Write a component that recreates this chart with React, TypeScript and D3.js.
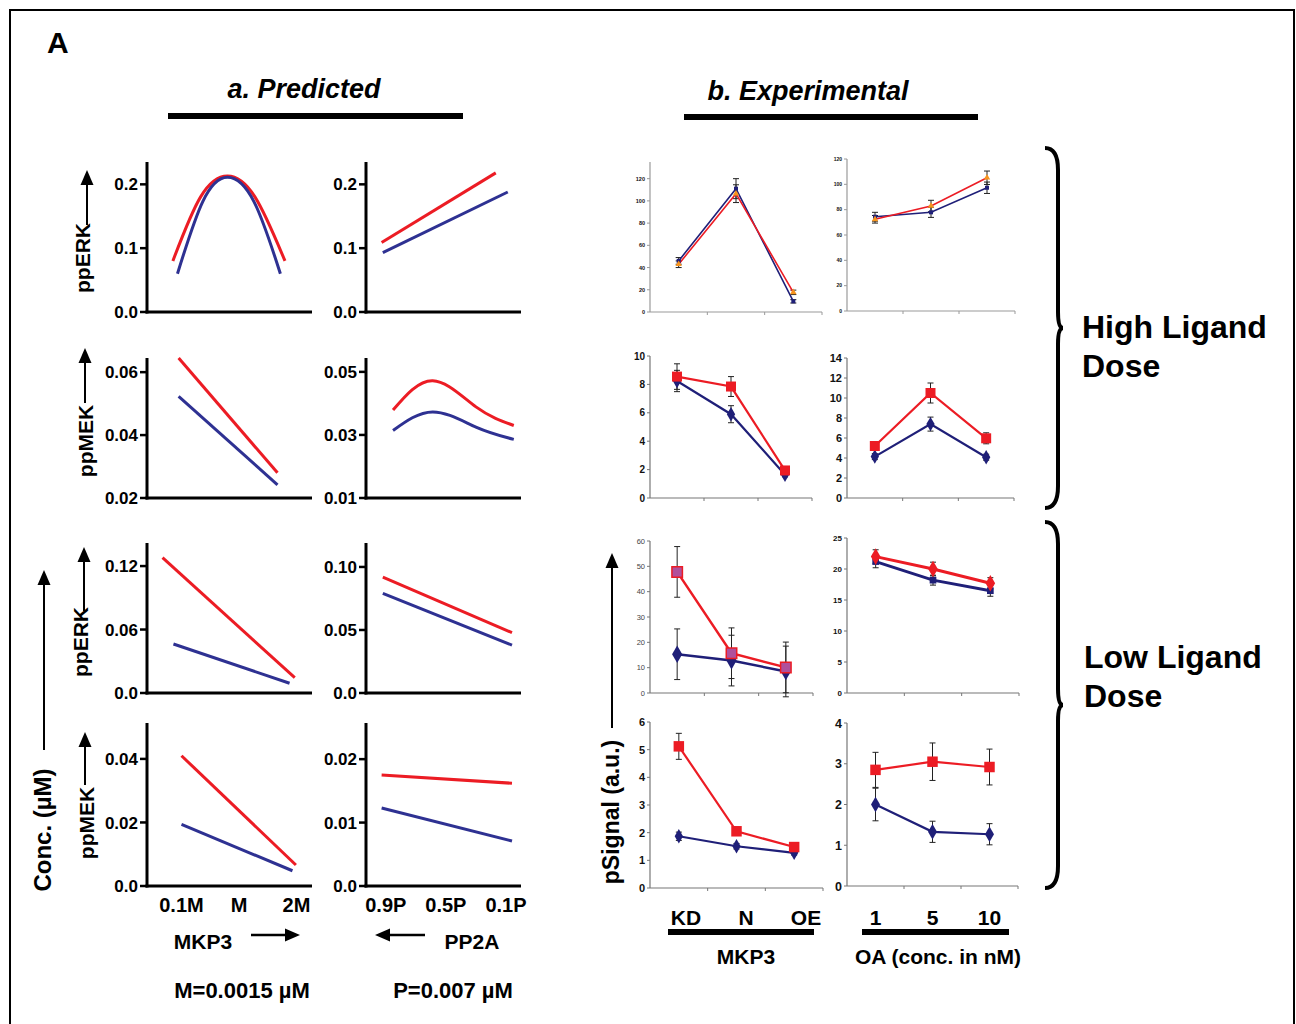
import React from "react";
import * as d3 from "d3";

const FONT = '"Liberation Sans", Arial, Helvetica, sans-serif';
const RED = "#ec1c24";
const BLUE = "#2e3192";
const NAVY = "#1f1f78";

// ---- a. Predicted -------------------------------------------------------
// x is the position on the dose axis: 0 = first tick, 1 = middle, 2 = last
const mkp3Ticks = ["0.1M", "M", "2M"];
const pp2aTicks = ["0.9P", "0.5P", "0.1P"];
const rowNames = ["ppERK", "ppMEK", "ppERK", "ppMEK"];

const erkHighMkp3Red = [[-0.15, 0.08], [0.33, 0.18], [0.8, 0.213], [1.28, 0.18], [1.8, 0.08]];
const erkHighMkp3Blue = [[-0.07, 0.06], [0.37, 0.173], [0.8, 0.211], [1.26, 0.173], [1.72, 0.06]];
const erkHighPp2aRed = [[-0.07, 0.109], [1.83, 0.218]];
const erkHighPp2aBlue = [[-0.05, 0.093], [2.03, 0.188]];
const mekHighMkp3Red = [[-0.05, 0.0645], [1.67, 0.028]];
const mekHighMkp3Blue = [[-0.05, 0.0523], [1.67, 0.0242]];
const mekHighPp2aRed = [[0.12, 0.0379], [0.78, 0.0472], [1.5, 0.0389], [2.13, 0.033]];
const mekHighPp2aBlue = [[0.12, 0.0314], [0.78, 0.0373], [1.5, 0.0325], [2.13, 0.0286]];
const erkLowMkp3Red = [[-0.33, 0.128], [1.97, 0.0145]];
const erkLowMkp3Blue = [[-0.14, 0.0463], [1.88, 0.0092]];
const erkLowPp2aRed = [[-0.05, 0.092], [2.1, 0.0479]];
const erkLowPp2aBlue = [[-0.05, 0.0791], [2.1, 0.038]];
const mekLowMkp3Red = [[0, 0.041], [1.99, 0.0066]];
const mekLowMkp3Blue = [[0, 0.0194], [1.93, 0.0048]];
const mekLowPp2aRed = [[-0.07, 0.0175], [2.1, 0.0162]];
const mekLowPp2aBlue = [[-0.07, 0.0123], [2.1, 0.0071]];

const predYDomains = [[0, 0.235], [0, 0.235], [0.02, 0.0645], [0.01, 0.0544], [0, 0.1418], [0, 0.119], [0, 0.0513], [0, 0.0257]];
const predYTicks = [[0, 0.1, 0.2], [0, 0.1, 0.2], [0.02, 0.04, 0.06], [0.01, 0.03, 0.05], [0, 0.06, 0.12], [0, 0.05, 0.1], [0, 0.02, 0.04], [0, 0.01, 0.02]];
const predYLabels = [["0.0", "0.1", "0.2"], ["0.0", "0.1", "0.2"], ["0.02", "0.04", "0.06"], ["0.01", "0.03", "0.05"], ["0.0", "0.06", "0.12"], ["0.0", "0.05", "0.10"], ["0.0", "0.02", "0.04"], ["0.0", "0.01", "0.02"]];

// ---- b. Experimental ----------------------------------------------------
const mkp3Cats = ["KD", "N", "OE"];
const oaCats = ["1", "5", "10"];

const e11Blue = [46, 111, 9.6], e11BlueErr = [3, 9, 1.5];
const e11Red = [43, 106.5, 17.7], e11RedErr = [3, 8, 2];
const e12Blue = [74.4, 77.9, 97.3], e12BlueErr = [3.5, 4, 4.5];
const e12Red = [72.4, 82.9, 105.2], e12RedErr = [3, 4.5, 5.3];
const e21Blue = [8.24, 5.9, 1.64], e21BlueErr = [0.75, 0.6, 0.15];
const e21Red = [8.55, 7.85, 1.94], e21RedErr = [0.9, 0.7, 0.25];
const e22Blue = [4.14, 7.39, 4.08], e22BlueErr = [0.3, 0.7, 0.3];
const e22Red = [5.2, 10.5, 5.97], e22RedErr = [0.3, 1.0, 0.55];
const e31Blue = [15.3, 12.8, 8.5], e31BlueErr = [10, 10, 10];
const e31Red = [47.8, 15.7, 10.1], e31RedErr = [10, 10, 10];
const e32Blue = [21.2, 18.2, 16.5], e32BlueErr = [1, 0.8, 0.9];
const e32Red = [22, 20, 17.7], e32RedErr = [1.1, 1.1, 0.9];
const e41Blue = [1.87, 1.51, 1.27], e41BlueErr = [0.15, 0.1, 0.08];
const e41Red = [5.12, 2.05, 1.48], e41RedErr = [0.47, 0.15, 0.12];
const e42Blue = [2.0, 1.33, 1.27], e42BlueErr = [0.4, 0.26, 0.26];
const e42Red = [2.85, 3.05, 2.92], e42RedErr = [0.43, 0.46, 0.44];

const expYMax = [135, 120, 10, 14, 60, 25, 6, 4];
const expYTickMax = [120, 120, 10, 14, 60, 25, 6, 4];
const expYStep = [20, 20, 2, 2, 10, 5, 1, 1];

// ---- layout --------------------------------------------------------------
const predRows = [[162, 312], [358, 498], [543, 693], [723, 886]];
const predCols = [{ x0: 147, x1: 312, dom: [-0.6, 2.27] }, { x0: 366, x1: 521, dom: [-0.33, 2.25] }];
const expCols = [[650, 818], [847, 1016]];
const expRange = [[312, 162], [311, 159], [498, 356], [498, 358], [693, 541], [693, 538], [888, 722], [886, 723]];
const expRight = [822, 1015, 812, 1014, 813, 1019, 823, 1018];
const expFont = [5.5, 5, 10, 11, 7.5, 8, 11, 12.5];

function PredPanel({ i, red, blue }) {
  const row = Math.floor(i / 2), col = i % 2;
  const [top, bottom] = predRows[row];
  const c = predCols[col];
  const x = d3.scaleLinear().domain(c.dom).range([c.x0, c.x1]);
  const y = d3.scaleLinear().domain(predYDomains[i]).range([bottom, top]);
  const line = d3.line().x(d => x(d[0])).y(d => y(d[1])).curve(d3.curveNatural);
  return (
    <g>
      <path d={line(red)} fill="none" stroke={RED} strokeWidth={3} />
      <path d={line(blue)} fill="none" stroke={BLUE} strokeWidth={3} />
      <line x1={c.x0} x2={c.x0} y1={top} y2={bottom + 1.5} stroke="#000" strokeWidth={3} />
      <line x1={c.x0 - 1.5} x2={c.x1} y1={bottom} y2={bottom} stroke="#000" strokeWidth={3} />
      {predYTicks[i].map((t, k) => (
        <g key={k}>
          <line x1={c.x0 - 7} x2={c.x0} y1={y(t)} y2={y(t)} stroke="#000" strokeWidth={2.5} />
          <text x={c.x0 - 9} y={y(t)} dy="0.36em" textAnchor="end" fontSize={17} fontWeight="bold">{predYLabels[i][k]}</text>
        </g>
      ))}
      {row === 3 && (col === 0 ? mkp3Ticks : pp2aTicks).map((t, k) => (
        <text key={t} x={x(k)} y={912} textAnchor="middle" fontSize={20} fontWeight="bold">{t}</text>
      ))}
    </g>
  );
}

const expStyles = [
  { rs: d3.symbolTriangle, rSize: 18, rFill: "#f7941d", rStroke: "none", bs: d3.symbolSquare, bSize: 16, lw: 1.6, axis: "#9a9a9a", bold: true },
  { rs: d3.symbolTriangle, rSize: 18, rFill: "#f7941d", rStroke: "none", bs: d3.symbolSquare, bSize: 16, lw: 1.6, axis: "#9a9a9a", bold: true },
  { rs: d3.symbolSquare, rSize: 100, rFill: RED, rStroke: "none", bs: d3.symbolDiamond, bSize: 60, lw: 2.2, axis: "#777", bold: true },
  { rs: d3.symbolSquare, rSize: 100, rFill: RED, rStroke: "none", bs: d3.symbolDiamond, bSize: 60, lw: 2.2, axis: "#777", bold: true },
  { rs: d3.symbolSquare, rSize: 110, rFill: "#b0509c", rStroke: RED, bs: d3.symbolDiamond, bSize: 90, lw: 2.5, axis: "#777", bold: false },
  { rs: d3.symbolDiamond, rSize: 80, rFill: RED, rStroke: "none", bs: d3.symbolSquare, bSize: 45, lw: 3, axis: "#777", bold: true },
  { rs: d3.symbolSquare, rSize: 110, rFill: RED, rStroke: "none", bs: d3.symbolDiamond, bSize: 60, lw: 2.2, axis: "#777", bold: true },
  { rs: d3.symbolSquare, rSize: 110, rFill: RED, rStroke: "none", bs: d3.symbolDiamond, bSize: 70, lw: 2.2, axis: "#777", bold: true },
];

function ExpPanel({ i, blue, blueErr, red, redErr }) {
  const col = i % 2;
  const cats = col === 0 ? mkp3Cats : oaCats;
  const x0 = expCols[col][0], x1 = expRight[i];
  const x = d3.scaleBand().domain(cats).range([x0, x1]);
  const cx = c => x(c) + x.bandwidth() / 2;
  const y = d3.scaleLinear().domain([0, expYMax[i]]).range(expRange[i]);
  const s = expStyles[i];
  const line = d3.line().x((d, k) => cx(cats[k])).y(d => y(d));
  const ticks = d3.range(0, expYTickMax[i] + 0.001, expYStep[i]);
  const bottom = expRange[i][0];
  const errBars = (vals, errs) => vals.map((v, k) => (
    <g key={k} stroke="#222" strokeWidth={1}>
      <line x1={cx(cats[k])} x2={cx(cats[k])} y1={y(v - errs[k])} y2={y(v + errs[k])} />
      <line x1={cx(cats[k]) - 3} x2={cx(cats[k]) + 3} y1={y(v - errs[k])} y2={y(v - errs[k])} />
      <line x1={cx(cats[k]) - 3} x2={cx(cats[k]) + 3} y1={y(v + errs[k])} y2={y(v + errs[k])} />
    </g>
  ));
  const rPath = d3.symbol().type(s.rs).size(s.rSize)();
  const bPath = d3.symbol().type(s.bs).size(s.bSize)();
  return (
    <g>
      <line x1={x0} x2={x0} y1={expRange[i][1]} y2={bottom} stroke={s.axis} strokeWidth={1.2} />
      <line x1={x0} x2={x1} y1={bottom} y2={bottom} stroke={s.axis} strokeWidth={1.2} />
      {ticks.map(t => (
        <g key={t}>
          <line x1={x0 - 3} x2={x0} y1={y(t)} y2={y(t)} stroke={s.axis} />
          <text x={x0 - 5} y={y(t)} dy="0.36em" textAnchor="end" fontSize={expFont[i]} fontWeight={s.bold ? "bold" : "normal"} fill={s.bold ? "#111" : "#444"}>{t}</text>
        </g>
      ))}
      {cats.map(c => (
        <line key={c} x1={x(c) + x.bandwidth()} x2={x(c) + x.bandwidth()} y1={bottom} y2={bottom + 3} stroke={s.axis} />
      ))}
      {errBars(blue, blueErr)}
      {errBars(red, redErr)}
      <path d={line(blue)} fill="none" stroke={NAVY} strokeWidth={s.lw} />
      <path d={line(red)} fill="none" stroke={RED} strokeWidth={s.lw} />
      {blue.map((v, k) => <path key={"b" + k} d={bPath} transform={`translate(${cx(cats[k])},${y(v)})`} fill={NAVY} />)}
      {red.map((v, k) => <path key={"r" + k} d={rPath} transform={`translate(${cx(cats[k])},${y(v)})`} fill={s.rFill} stroke={s.rStroke} strokeWidth={1.5} />)}
    </g>
  );
}

function VArrow({ x, tip, end, w = 13, h = 15 }) {
  return (
    <g>
      <line x1={x} x2={x} y1={tip + h - 1} y2={end} stroke="#000" strokeWidth={2} />
      <path d={`M${x},${tip} L${x - w / 2},${tip + h} L${x + w / 2},${tip + h} Z`} fill="#000" />
    </g>
  );
}

function HArrow({ tail, tip, y }) {
  const dir = tip > tail ? 1 : -1;
  return (
    <g>
      <line x1={tail} x2={tip - dir * 12} y1={y} y2={y} stroke="#000" strokeWidth={2.5} />
      <path d={`M${tip},${y} L${tip - dir * 15},${y - 6.5} L${tip - dir * 15},${y + 6.5} Z`} fill="#000" />
    </g>
  );
}

function Brace({ y0, y1 }) {
  const xl = 1045, xm = 1058, xp = 1063, ym = (y0 + y1) / 2;
  const d = `M${xl},${y0} Q${xm},${y0} ${xm},${y0 + 22} L${xm},${ym - 16} Q${xm},${ym} ${xp},${ym} Q${xm},${ym} ${xm},${ym + 16} L${xm},${y1 - 22} Q${xm},${y1} ${xl},${y1}`;
  return <path d={d} fill="none" stroke="#000" strokeWidth={4} />;
}

export default function App() {
  const predData = [
    [erkHighMkp3Red, erkHighMkp3Blue], [erkHighPp2aRed, erkHighPp2aBlue],
    [mekHighMkp3Red, mekHighMkp3Blue], [mekHighPp2aRed, mekHighPp2aBlue],
    [erkLowMkp3Red, erkLowMkp3Blue], [erkLowPp2aRed, erkLowPp2aBlue],
    [mekLowMkp3Red, mekLowMkp3Blue], [mekLowPp2aRed, mekLowPp2aBlue],
  ];
  const expData = [
    [e11Blue, e11BlueErr, e11Red, e11RedErr], [e12Blue, e12BlueErr, e12Red, e12RedErr],
    [e21Blue, e21BlueErr, e21Red, e21RedErr], [e22Blue, e22BlueErr, e22Red, e22RedErr],
    [e31Blue, e31BlueErr, e31Red, e31RedErr], [e32Blue, e32BlueErr, e32Red, e32RedErr],
    [e41Blue, e41BlueErr, e41Red, e41RedErr], [e42Blue, e42BlueErr, e42Red, e42RedErr],
  ];
  const rowLabelPos = [[90, 258, 87, 170, 225], [93, 441, 85, 348, 403], [88, 642, 84, 547, 611], [94, 823, 85, 732, 785]];
  const labelX = d3.scalePoint().domain(mkp3Cats).range([686, 806]);
  const oaX = d3.scaleBand().domain(oaCats).range([expCols[1][0], expRight[7]]);

  return (
    <svg width={1296} height={1024} style={{ position: "absolute", left: 0, top: 0, background: "#fff" }} fontFamily={FONT}>
      <rect x={10} y={10} width={1284} height={1040} fill="#fff" stroke="#000" strokeWidth={2} />
      <text x={47} y={53} fontSize={30} fontWeight="bold">A</text>

      <text x={304} y={98} textAnchor="middle" fontSize={27} fontWeight="bold" fontStyle="italic">a. Predicted</text>
      <rect x={168} y={113} width={295} height={6} fill="#000" />
      <text x={808} y={100} textAnchor="middle" fontSize={27} fontWeight="bold" fontStyle="italic">b. Experimental</text>
      <rect x={684} y={114} width={294} height={6} fill="#000" />

      {predData.map((d, i) => <PredPanel key={i} i={i} red={d[0]} blue={d[1]} />)}
      {expData.map((d, i) => <ExpPanel key={i} i={i} blue={d[0]} blueErr={d[1]} red={d[2]} redErr={d[3]} />)}

      {rowNames.map((n, r) => {
        const [tx, ty, ax, tip, end] = rowLabelPos[r];
        return (
          <g key={r}>
            <text transform={`translate(${tx},${ty}) rotate(-90)`} textAnchor="middle" fontSize={21} fontWeight="bold">{n}</text>
            <VArrow x={ax} tip={tip} end={end} />
          </g>
        );
      })}

      <text transform="translate(51,830) rotate(-90)" textAnchor="middle" fontSize={24} fontWeight="bold">Conc. (µM)</text>
      <VArrow x={44} tip={570} end={750} />

      <text x={203} y={949} textAnchor="middle" fontSize={21} fontWeight="bold">MKP3</text>
      <HArrow tail={251} tip={300} y={935} />
      <text x={472} y={949} textAnchor="middle" fontSize={21} fontWeight="bold">PP2A</text>
      <HArrow tail={425} tip={375} y={935} />
      <text x={242} y={998} textAnchor="middle" fontSize={22} fontWeight="bold">M=0.0015 µM</text>
      <text x={453} y={998} textAnchor="middle" fontSize={22} fontWeight="bold">P=0.007 µM</text>

      <text transform="translate(619,812) rotate(-90)" textAnchor="middle" fontSize={23} fontWeight="bold">pSignal (a.u.)</text>
      <VArrow x={612} tip={553} end={728} />

      {mkp3Cats.map(c => (
        <text key={c} x={labelX(c)} y={925} textAnchor="middle" fontSize={21} fontWeight="bold">{c}</text>
      ))}
      {oaCats.map(c => (
        <text key={c} x={oaX(c) + oaX.bandwidth() / 2} y={925} textAnchor="middle" fontSize={21} fontWeight="bold">{c}</text>
      ))}
      <rect x={668} y={929} width={146} height={6} fill="#000" />
      <rect x={862} y={929} width={147} height={6} fill="#000" />
      <text x={746} y={964} textAnchor="middle" fontSize={21} fontWeight="bold">MKP3</text>
      <text x={938} y={964} textAnchor="middle" fontSize={21} fontWeight="bold">OA (conc. in nM)</text>

      <Brace y0={148} y1={508} />
      <Brace y0={522} y1={888} />
      <text x={1082} y={338} fontSize={32} fontWeight="bold">High Ligand</text>
      <text x={1082} y={377} fontSize={32} fontWeight="bold">Dose</text>
      <text x={1084} y={668} fontSize={32} fontWeight="bold">Low Ligand</text>
      <text x={1084} y={707} fontSize={32} fontWeight="bold">Dose</text>
    </svg>
  );
}
